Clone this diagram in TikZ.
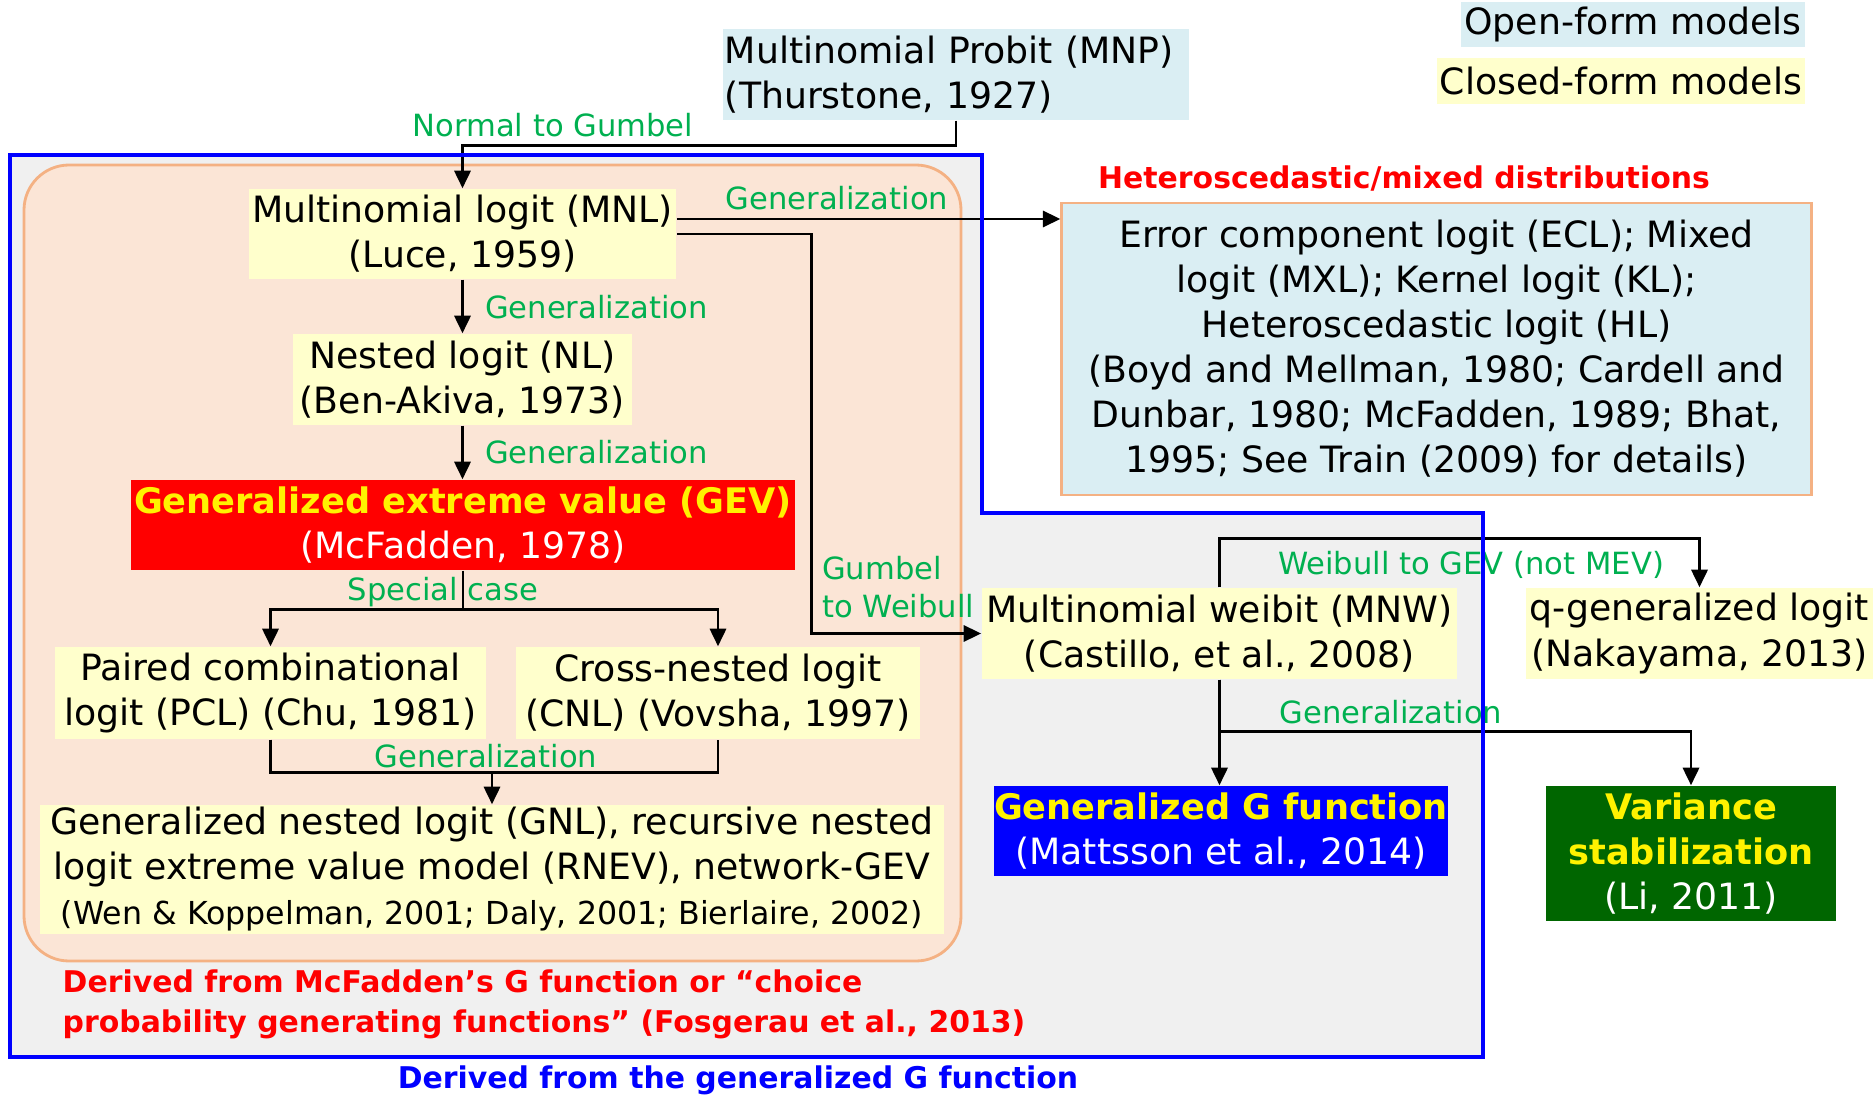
\documentclass[tikz,border=0pt]{standalone}
\usepackage{fontspec}
\setmainfont{DejaVu Sans}
\usetikzlibrary{arrows.meta}

\definecolor{openblue}{HTML}{DAEEF3}
\definecolor{closedyellow}{HTML}{FFFFCC}
\definecolor{peach}{HTML}{FBE5D6}
\definecolor{peachline}{HTML}{F4B183}
\definecolor{framegray}{HTML}{F0F0F0}
\definecolor{labelgreen}{HTML}{00B050}
\definecolor{darkgreen}{HTML}{006600}

\newcommand\mainsize{\fontsize{10.3}{12.8}\selectfont}
\newcommand\lblsize{\fontsize{8.7}{10.8}\selectfont}
\newcommand\smallersize{\fontsize{9}{11}\selectfont}
\newcommand\headsize{\fontsize{8.5}{11.3}\selectfont}
\newcommand\hilite[1]{{\fontsize{10}{12.8}\selectfont\bfseries\color{yellow}#1}}

\tikzset{
  model/.style={inner sep=0pt, align=center, font=\mainsize},
  closed/.style={model, fill=closedyellow},
  open/.style={model, fill=openblue},
  lbl/.style={text=labelgreen, font=\lblsize, inner sep=1pt},
  link/.style={line width=0.8pt},
  arr/.style={link, -{Triangle[length=5pt,width=4.6pt]}},
}

\begin{document}
\begin{tikzpicture}[x=0.01cm, y=-0.01cm]
  \useasboundingbox (0,0) rectangle (1875,1097);

  % frames
  \fill[framegray] (10,155) -- (982,155) -- (982,513) -- (1483,513)
    -- (1483,1057) -- (10,1057) -- cycle;
  \draw[peachline, fill=peach, line width=0.8pt, rounded corners=0.45cm]
    (24,165) rectangle (961,961);

  % legend
  \node[open, minimum width=3.44cm, minimum height=0.45cm] (openkey) at (1633,24.5) {Open-form models};
  \node[closed, minimum width=3.68cm, minimum height=0.46cm] (closedkey) at (1621,81) {Closed-form models};

  % models
  \node[open, text width=4.62cm, inner xsep=0.02cm, align=left, minimum height=0.91cm]
    (mnp) at (956,74.5) {Multinomial Probit (MNP)\\(Thurstone, 1927)};
  \node[closed, minimum width=4.27cm, minimum height=0.9cm]
    (mnl) at (462.5,234) {Multinomial logit (MNL)\\(Luce, 1959)};
  \node[closed, minimum width=3.38cm, minimum height=0.91cm]
    (nl) at (462.5,379.5) {Nested logit (NL)\\(Ben-Akiva, 1973)};
  \node[model, fill=red, minimum width=6.64cm, minimum height=0.9cm]
    (gev) at (463,525) {\hilite{Generalized extreme value (GEV)}\\\textcolor{white}{(McFadden, 1978)}};
  \node[closed, minimum width=4.31cm, minimum height=0.92cm]
    (pcl) at (270.5,693) {Paired combinational\\logit (PCL) (Chu, 1981)};
  \node[closed, minimum width=4.04cm, minimum height=0.92cm]
    (cnl) at (718,693) {Cross-nested logit\\(CNL) (Vovsha, 1997)};
  \node[closed, minimum width=9.04cm, minimum height=1.29cm]
    (gnl) at (492,869.5) {Generalized nested logit (GNL), recursive nested\\logit extreme value model (RNEV), network-GEV\\{\smallersize (Wen \& Koppelman, 2001; Daly, 2001; Bierlaire, 2002)}};
  \node[open, draw=peachline, line width=0.8pt, minimum width=7.49cm, minimum height=2.92cm]
    (ecl) at (1436.5,349) {Error component logit (ECL); Mixed\\logit (MXL); Kernel logit (KL);\\Heteroscedastic logit (HL)\\(Boyd and Mellman, 1980; Cardell and\\Dunbar, 1980; McFadden, 1989; Bhat,\\1995; See Train (2009) for details)};
  \node[closed, minimum width=4.75cm, minimum height=0.91cm]
    (mnw) at (1219.5,633.5) {Multinomial weibit (MNW)\\(Castillo, et al., 2008)};
  \node[closed, minimum width=3.47cm, minimum height=0.91cm]
    (qgl) at (1699.5,633.5) {q-generalized logit\\(Nakayama, 2013)};
  \node[model, fill=blue, minimum width=4.54cm, minimum height=0.9cm]
    (gfun) at (1221,831) {\hilite{Generalized G function}\\\textcolor{white}{(Mattsson et al., 2014)}};
  \node[model, fill=darkgreen, minimum width=2.9cm, minimum height=1.35cm]
    (var) at (1691,853.5) {\hilite{Variance}\\\hilite{stabilization}\\\textcolor{white}{(Li, 2011)}};

  % group captions
  \node[text=red, font=\headsize\bfseries] (hetero) at (1404,179) {Heteroscedastic/mixed distributions};
  \node[text=red, font=\headsize\bfseries, anchor=west, align=left, inner sep=0pt]
    (mcfg) at (62,1004) {Derived from McFadden’s G function or “choice\\probability generating functions” (Fosgerau et al., 2013)};
  \node[text=blue, font=\headsize\bfseries] (geng) at (738,1080) {Derived from the generalized G function};

  % connectors
  \draw[arr] (mnp.south) -- ++(0,25) -| (mnl.north);
  \node[lbl] (ntog) at (553,125) {Normal to Gumbel};
  \draw[arr] ([yshift=0.15cm]mnl.east) -- ([yshift=0.15cm]mnl.east -| ecl.west);
  \node[lbl] (gen1) at (837,198) {Generalization};
  \draw[arr] (mnl.east) -- ++(135,0) |- (mnw.west);
  \node[lbl, anchor=west, align=left] (gtow) at (818,587) {Gumbel\\to Weibull};
  \draw[arr] (mnl.south) -- (mnl.south |- nl.north);
  \node[lbl, anchor=west] (gen2) at (481,307) {Generalization};
  \draw[arr] (nl.south) -- (nl.south |- gev.north);
  \node[lbl, anchor=west] (gen3) at (481,452) {Generalization};
  \draw[link] (gev.south) -- ++(0,39) coordinate (sc);
  \draw[arr] (sc) -| (pcl.north);
  \draw[arr] (sc) -| (cnl.north);
  \node[lbl] (spec) at (443,592) {Special case};
  \draw[link] (pcl.south) -- ++(0,33) coordinate (pj) -| (cnl.south);
  \draw[arr] (pj -| gnl.north) -- (gnl.north);
  \node[lbl] (gen4) at (486,756) {Generalization};
  \draw[arr] (mnw.north) -- ++(0,-49) -| (qgl.north);
  \node[lbl] (wtog) at (1471,565) {Weibull to GEV (not MEV)};
  \draw[arr] (mnw.south) -- (mnw.south |- gfun.north);
  \draw[arr] (mnw.south) -- ++(0,52) -| (var.north);
  \node[lbl] (gen5) at (1391,712) {Generalization};

  % outer border on top
  \draw[blue, line width=1.1pt] (10,155) -- (982,155) -- (982,513) -- (1483,513)
    -- (1483,1057) -- (10,1057) -- cycle;
\end{tikzpicture}
\end{document}
